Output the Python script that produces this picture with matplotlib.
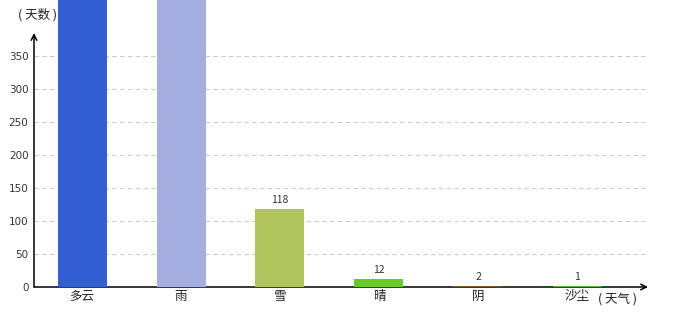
import numpy as np
import matplotlib
matplotlib.use('Agg')
import matplotlib.pyplot as plt

plt.rcParams['font.family'] = ['Noto Sans CJK SC', 'DejaVu Sans']

categories = ['多云', '雨', '雪', '晴', '阴', '沙尘']
days = [620, 560, 118, 12, 2, 1]
colors = ['#335fd3', '#a5aee0', '#b0c35c', '#66cc1f', '#7d5b2e', '#55b83a']
yticks = [0, 50, 100, 150, 200, 250, 300, 350]

W, H = 680, 320
fig = plt.figure(figsize=(W / 100, H / 100), dpi=100)
x0, y0, x1 = 34, 287, 648
ax = fig.add_axes([x0 / W, (H - y0) / H, (x1 - x0) / W, y0 / H])

px_per_unit = 0.66
ymax = y0 / px_per_unit
ax.set_ylim(0, ymax)
step = 99
ax.set_xlim(-48 / step, (x1 - x0 - 48) / step)

xs = np.arange(len(categories))
ax.bar(xs, days, width=49 / step, color=colors, zorder=5)
for x, v in zip(xs, days):
    # labels of bars running off the top are not visible in the chart
    if v + 20 < ymax:
        ax.text(x, v + 6, str(v), ha='center', va='bottom', fontsize=7.5,
                color='#333333', zorder=6)

for t in yticks[1:]:
    ax.axhline(t, color='#cccccc', lw=0.8, ls=(0, (4, 3)), zorder=1)

for s in ax.spines.values():
    s.set_visible(False)
ax.set_yticks(yticks)
ax.set_yticklabels([str(t) for t in yticks], fontsize=7.5, color='#333333',
                   family='DejaVu Sans')
ax.tick_params(axis='y', length=0, pad=4)
ax.set_xticks(xs)
ax.set_xticklabels(categories, fontsize=9, color='#222222')
ax.tick_params(axis='x', length=0, pad=2)

top_val = (y0 - 33) / px_per_unit
ax.annotate('', xy=(0, top_val), xytext=(0, 0),
            xycoords=('axes fraction', 'data'), textcoords=('axes fraction', 'data'),
            arrowprops=dict(arrowstyle='->', color='black', lw=1.1,
                            shrinkA=0, shrinkB=0), annotation_clip=False, zorder=2)
ax.annotate('', xy=(1, 0), xytext=(0, 0), xycoords='axes fraction',
            arrowprops=dict(arrowstyle='->', color='black', lw=1.1,
                            shrinkA=0, shrinkB=0), annotation_clip=False, zorder=2)

fig.text(18 / W, 1 - 15 / H, '( 天数 )', fontsize=9, color='#222222',
         ha='left', va='center')
fig.text(598 / W, 1 - 299 / H, '( 天气 )', fontsize=9, color='#222222',
         ha='left', va='center')

fig.savefig('out.png', dpi=100)
